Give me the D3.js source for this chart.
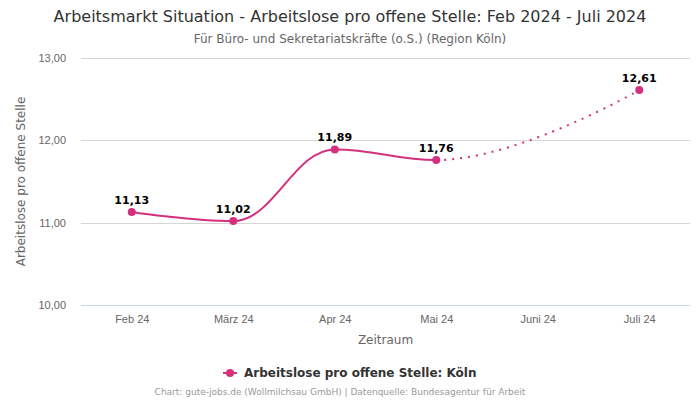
<!DOCTYPE html>
<html>
<head>
<meta charset="utf-8">
<script src="https://cdn.jsdelivr.net/npm/d3@7"></script>
<style>
  body { margin: 0; background: #fff; }
  svg { font-family: "DejaVu Sans", sans-serif; }
</style>
</head>
<body>
<div id="wrapper"></div>
<script>
// data
const months = ["Feb 24", "März 24", "Apr 24", "Mai 24", "Juni 24", "Juli 24"]
const values = [11.13, 11.02, 11.89, 11.76, null, 12.61]
const dottedFrom = "Mai 24"
const yTicks = [10, 11, 12, 13]

const color = "#d4307e"
const fmt = v => d3.format(".2f")(v).replace(".", ",")

const dimensions = {
  width: 700,
  height: 400,
  margin: { top: 58, right: 10, bottom: 95, left: 81 },
}
dimensions.boundedWidth = dimensions.width - dimensions.margin.left - dimensions.margin.right
dimensions.boundedHeight = dimensions.height - dimensions.margin.top - dimensions.margin.bottom

const svg = d3.select("#wrapper").append("svg")
  .attr("width", dimensions.width)
  .attr("height", dimensions.height)

const bounds = svg.append("g")
  .attr("transform", `translate(${dimensions.margin.left},${dimensions.margin.top})`)

// scales
const xScale = d3.scalePoint()
  .domain(months)
  .range([0, dimensions.boundedWidth])
  .padding(0.5)

const yScale = d3.scaleLinear()
  .domain([10, 13])
  .range([dimensions.boundedHeight, 0])

// grid
bounds.append("g").selectAll("line")
  .data(yTicks.slice(1))
  .join("line")
  .attr("x1", 0).attr("x2", dimensions.boundedWidth)
  .attr("y1", d => Math.round(yScale(d)) + 0.5)
  .attr("y2", d => Math.round(yScale(d)) + 0.5)
  .attr("stroke", "#d6d6d6")

// y axis
const yAxis = bounds.append("g")
  .call(d3.axisLeft(yScale).tickValues(yTicks).tickFormat(fmt).tickSize(0).tickPadding(15))
yAxis.select(".domain").remove()
yAxis.selectAll("text").attr("fill", "#666").style("font-size", "11px")

// x axis
const xAxis = bounds.append("g")
  .attr("transform", `translate(0,${dimensions.boundedHeight})`)
  .call(d3.axisBottom(xScale).tickSize(0).tickPadding(10))
xAxis.select(".domain").attr("stroke", "#ccd6eb").attr("d", `M0,0.5H${dimensions.boundedWidth}`)
xAxis.selectAll("text").attr("fill", "#666").style("font-size", "11px")

// highcharts-like spline through non-null points
const pts = months.map((m, i) => ({ m, v: values[i] }))
  .filter(d => d.v != null)
  .map(d => ({ m: d.m, v: d.v, x: xScale(d.m), y: yScale(d.v) }))

const smoothing = 1.5, denom = 2.5
pts.forEach((p, i) => {
  const last = pts[i - 1], next = pts[i + 1]
  if (last && next) {
    let lcx = (smoothing * p.x + last.x) / denom
    let lcy = (smoothing * p.y + last.y) / denom
    let rcx = (smoothing * p.x + next.x) / denom
    let rcy = (smoothing * p.y + next.y) / denom
    let corr = 0
    if (rcx !== lcx) corr = ((rcy - lcy) * (rcx - p.x)) / (rcx - lcx) + p.y - rcy
    lcy += corr; rcy += corr
    if (lcy > last.y && lcy > p.y) { lcy = Math.max(last.y, p.y); rcy = 2 * p.y - lcy }
    else if (lcy < last.y && lcy < p.y) { lcy = Math.min(last.y, p.y); rcy = 2 * p.y - lcy }
    if (rcy > next.y && rcy > p.y) { rcy = Math.max(next.y, p.y); lcy = 2 * p.y - rcy }
    else if (rcy < next.y && rcy < p.y) { rcy = Math.min(next.y, p.y); lcy = 2 * p.y - rcy }
    p.lcx = lcx; p.lcy = lcy; p.rcx = rcx; p.rcy = rcy
  }
})

const splitIdx = pts.findIndex(p => p.m === dottedFrom)
function segmentPath(from, to) {
  const path = d3.path()
  path.moveTo(pts[from].x, pts[from].y)
  for (let i = from + 1; i <= to; i++) {
    const a = pts[i - 1], b = pts[i]
    path.bezierCurveTo(
      a.rcx ?? a.x, a.rcy ?? a.y,
      b.lcx ?? b.x, b.lcy ?? b.y,
      b.x, b.y)
  }
  return path.toString()
}

bounds.append("path")
  .attr("d", segmentPath(0, splitIdx))
  .attr("fill", "none")
  .attr("stroke", color)
  .attr("stroke-width", 2)

bounds.append("path")
  .attr("d", segmentPath(splitIdx, pts.length - 1))
  .attr("fill", "none")
  .attr("stroke", color)
  .attr("stroke-width", 2)
  .attr("stroke-dasharray", "2,6")

// markers
bounds.selectAll("circle")
  .data(pts)
  .join("circle")
  .attr("cx", d => d.x)
  .attr("cy", d => d.y)
  .attr("r", 4)
  .attr("fill", color)

// labels
bounds.selectAll(".label")
  .data(pts)
  .join("text")
  .attr("class", "label")
  .attr("x", d => d.x)
  .attr("y", d => d.y - 8)
  .attr("text-anchor", "middle")
  .style("font-size", "11px")
  .style("font-weight", "bold")
  .attr("fill", "#000")
  .attr("stroke", "#fff")
  .attr("stroke-width", 2)
  .attr("paint-order", "stroke")
  .text(d => fmt(d.v))

// titles
svg.append("text")
  .attr("x", 350).attr("y", 22)
  .attr("text-anchor", "middle")
  .attr("fill", "#333")
  .style("font-size", "16px")
  .text("Arbeitsmarkt Situation - Arbeitslose pro offene Stelle: Feb 2024 - Juli 2024")

svg.append("text")
  .attr("x", 350).attr("y", 43)
  .attr("text-anchor", "middle")
  .attr("fill", "#666")
  .style("font-size", "12px")
  .text("Für Büro- und Sekretariatskräfte (o.S.) (Region Köln)")

svg.append("text")
  .attr("transform", `translate(25,${dimensions.margin.top + dimensions.boundedHeight / 2}) rotate(-90)`)
  .attr("text-anchor", "middle")
  .attr("fill", "#666")
  .style("font-size", "12px")
  .text("Arbeitslose pro offene Stelle")

svg.append("text")
  .attr("x", dimensions.margin.left + dimensions.boundedWidth / 2)
  .attr("y", 344)
  .attr("text-anchor", "middle")
  .attr("fill", "#666")
  .style("font-size", "12px")
  .text("Zeitraum")

// legend
const legend = svg.append("g").attr("transform", "translate(230,373)")
legend.append("line")
  .attr("x1", -7).attr("x2", 7)
  .attr("stroke", color).attr("stroke-width", 2)
legend.append("circle").attr("r", 4).attr("fill", color)
legend.append("text")
  .attr("x", 14).attr("y", 4)
  .attr("fill", "#333")
  .style("font-size", "12px")
  .style("font-weight", "bold")
  .text("Arbeitslose pro offene Stelle: Köln")

svg.append("text")
  .attr("x", 340).attr("y", 395)
  .attr("text-anchor", "middle")
  .attr("fill", "#999")
  .style("font-size", "9px")
  .text("Chart: gute-jobs.de (Wollmilchsau GmbH) | Datenquelle: Bundesagentur für Arbeit")
</script>
</body>
</html>
